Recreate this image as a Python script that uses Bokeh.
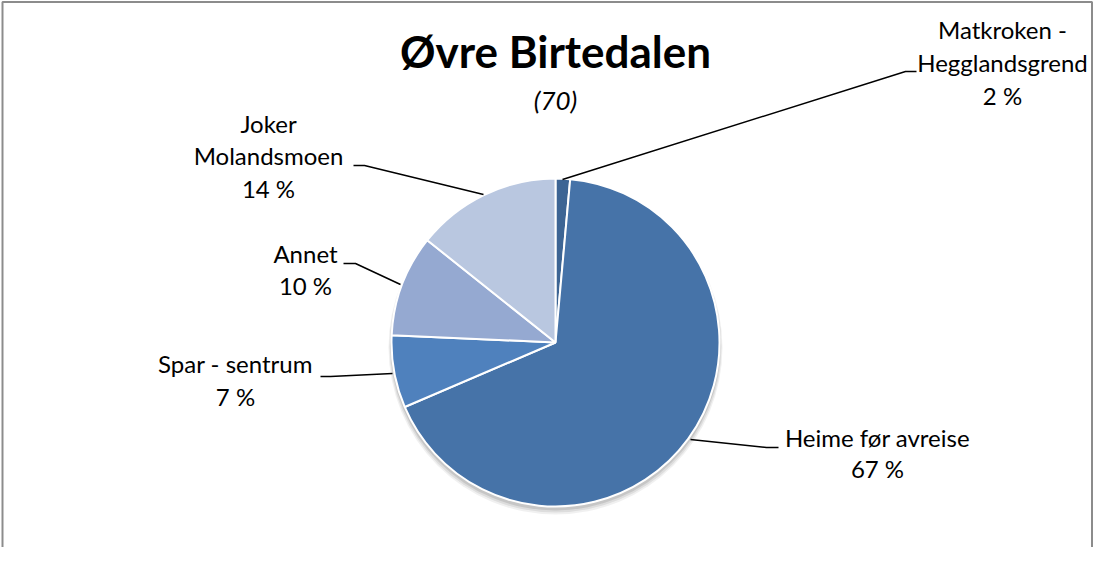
import numpy as np
from bokeh.plotting import figure
from bokeh.models import Range1d, ColumnDataSource
from bokeh.core.properties import value
from bokeh.embed import file_html
from bokeh.resources import INLINE

# ---- data ----
title = "Øvre Birtedalen"
subtitle = "(70)"
categories = ["Matkroken - Hegglandsgrend", "Heime før avreise", "Spar - sentrum", "Annet", "Joker Molandsmoen"]
counts = [1, 47, 5, 7, 10]
pct_labels = ["2 %", "67 %", "7 %", "10 %", "14 %"]
label_lines = [["Matkroken -", "Hegglandsgrend"], ["Heime før avreise"], ["Spar - sentrum"], ["Annet"], ["Joker", "Molandsmoen"]]
colors = ["#3d6594", "#4673a8", "#4f81bd", "#95a9d1", "#b9c7e0"]

W, H = 1093, 547
def X(xr): return xr
def Y(yr): return H - yr

p = figure(width=W, height=H, x_range=Range1d(0, W), y_range=Range1d(0, H),
           output_backend="svg", toolbar_location=None, min_border=0)
p.axis.visible = False
p.grid.visible = False
p.outline_line_color = None
p.background_fill_color = "white"
p.border_fill_color = "white"

# chart-area border (left, top, right)
p.line(x=[2, 2, W - 1.5, W - 1.5], y=[0, H - 1.5, H - 1.5, 0], line_color="#8c8c8c", line_width=2)

cx, cy, r = X(555), Y(342), 164

# shadow
for i, a in enumerate([0.10, 0.08, 0.06]):
    p.circle(x=[cx], y=[cy - 3 - i], radius=r + 1 + i, fill_color="#000000", fill_alpha=a, line_color=None)

vals = np.array(counts, dtype=float)
frac = vals / vals.sum()
cum = np.concatenate([[0], np.cumsum(frac)])
start = np.pi / 2 - cum[:-1] * 2 * np.pi
end = np.pi / 2 - cum[1:] * 2 * np.pi
src = ColumnDataSource(dict(start=start, end=end, color=colors, cat=categories))
p.wedge(x=cx, y=cy, radius=r, start_angle="start", end_angle="end", direction="clock",
        fill_color="color", line_color="white", line_width=2, source=src)

# leader lines (layout)
leaders = [
    [(562, 179), (905, 71), (916, 71)],
    [(690, 439), (766, 447), (778, 447)],
    [(392, 373), (330, 376), (320, 376)],
    [(400, 284), (355, 263), (343, 263)],
    [(483, 194), (364, 165), (353, 165)],
]
for pts in leaders:
    p.line(x=[X(a) for a, b in pts], y=[Y(b) for a, b in pts], line_color="black", line_width=1.5)

def put_text(x, base, t, size, style="normal"):
    # compensate renderer baseline offset
    p.text(x=[X(x)], y=[Y(base - 0.42 * size)], text=[t], text_align="center", text_baseline="alphabetic",
           text_font=value("Lato"), text_font_style=style, text_font_size=f"{size}px", text_color="black")

# label anchors: center x, first baseline, line spacing
anchors = [(1002, 39, 33), (877, 447, 31.5), (235, 373, 33), (305, 263, 32), (268, 133, 32.5)]
for lines, pct, (ax, ay, dy) in zip(label_lines, pct_labels, anchors):
    for k, t in enumerate(lines + [pct]):
        put_text(ax, ay + k * dy, t, 24)

put_text(555, 69, title, 44, "bold")
put_text(555, 110, subtitle, 26, "italic")

open("out.html", "w").write(file_html(p, INLINE))
